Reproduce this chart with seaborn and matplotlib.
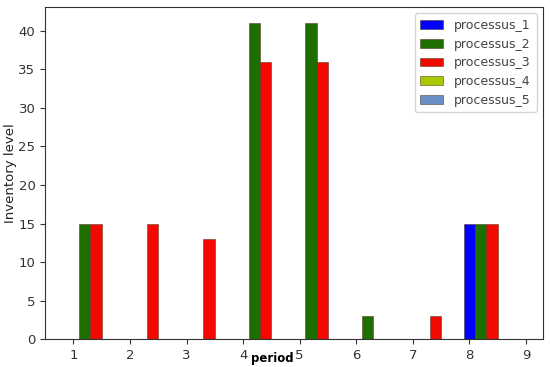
import matplotlib
matplotlib.use("Agg")
import matplotlib.pyplot as plt
import seaborn as sns
import numpy as np
import pandas as pd

periods = [1, 2, 3, 4, 5, 6, 7, 8, 9]
processes = ["processus_1", "processus_2", "processus_3", "processus_4", "processus_5"]
processus_1 = [0, 0, 0, 0, 0, 0, 0, 15, 0]
processus_2 = [15, 0, 0, 41, 41, 3, 0, 15, 0]
processus_3 = [15, 15, 13, 36, 36, 0, 3, 15, 0]
processus_4 = [0, 0, 0, 0, 0, 0, 0, 0, 0]
processus_5 = [0, 0, 0, 0, 0, 0, 0, 0, 0]
colors = ["#0000ff", "#1f6e00", "#f20a00", "#a8c800", "#6a8fc4"]

sns.set_theme(style="ticks")
plt.rcParams["font.family"] = ["DejaVu Sans"]

fig = plt.figure(figsize=(5.5, 3.67), dpi=100)
ax = fig.add_axes([0.082, 0.0755, 0.905, 0.905])

series = [processus_1, processus_2, processus_3, processus_4, processus_5]
width = 0.2
for i, (name, vals, c) in enumerate(zip(processes, series, colors)):
    x = np.array(periods) + i * width
    ax.bar(x, vals, width=width, color=c, label=name,
           edgecolor=(0.3, 0.2, 0.1, 0.6), linewidth=0.6)

ax.set_xlim(0.5, 9.3)
ax.set_ylim(0, 43.05)
ax.set_xticks(periods)
ax.set_yticks(range(0, 41, 5))
ax.tick_params(labelsize=9.5, colors="#333333", length=3.5, width=0.8)
for s in ax.spines.values():
    s.set_color("#333333")
    s.set_linewidth(0.8)
ax.set_ylabel("Inventory level", fontsize=9.5, color="#222222", labelpad=1)
ax.set_xlabel("period", fontsize=8.5, fontweight="bold", color="black")
ax.xaxis.set_label_coords(0.457, -0.038)

leg = ax.legend(loc="upper right", fontsize=9, frameon=True, fancybox=True,
                handlelength=1.8, handleheight=0.7, handletextpad=0.9,
                borderpad=0.45, labelspacing=0.45, borderaxespad=0.5)
leg.get_frame().set_edgecolor("#cccccc")
for t in leg.get_texts():
    t.set_color("#444444")

fig.savefig("out.png", dpi=100)
